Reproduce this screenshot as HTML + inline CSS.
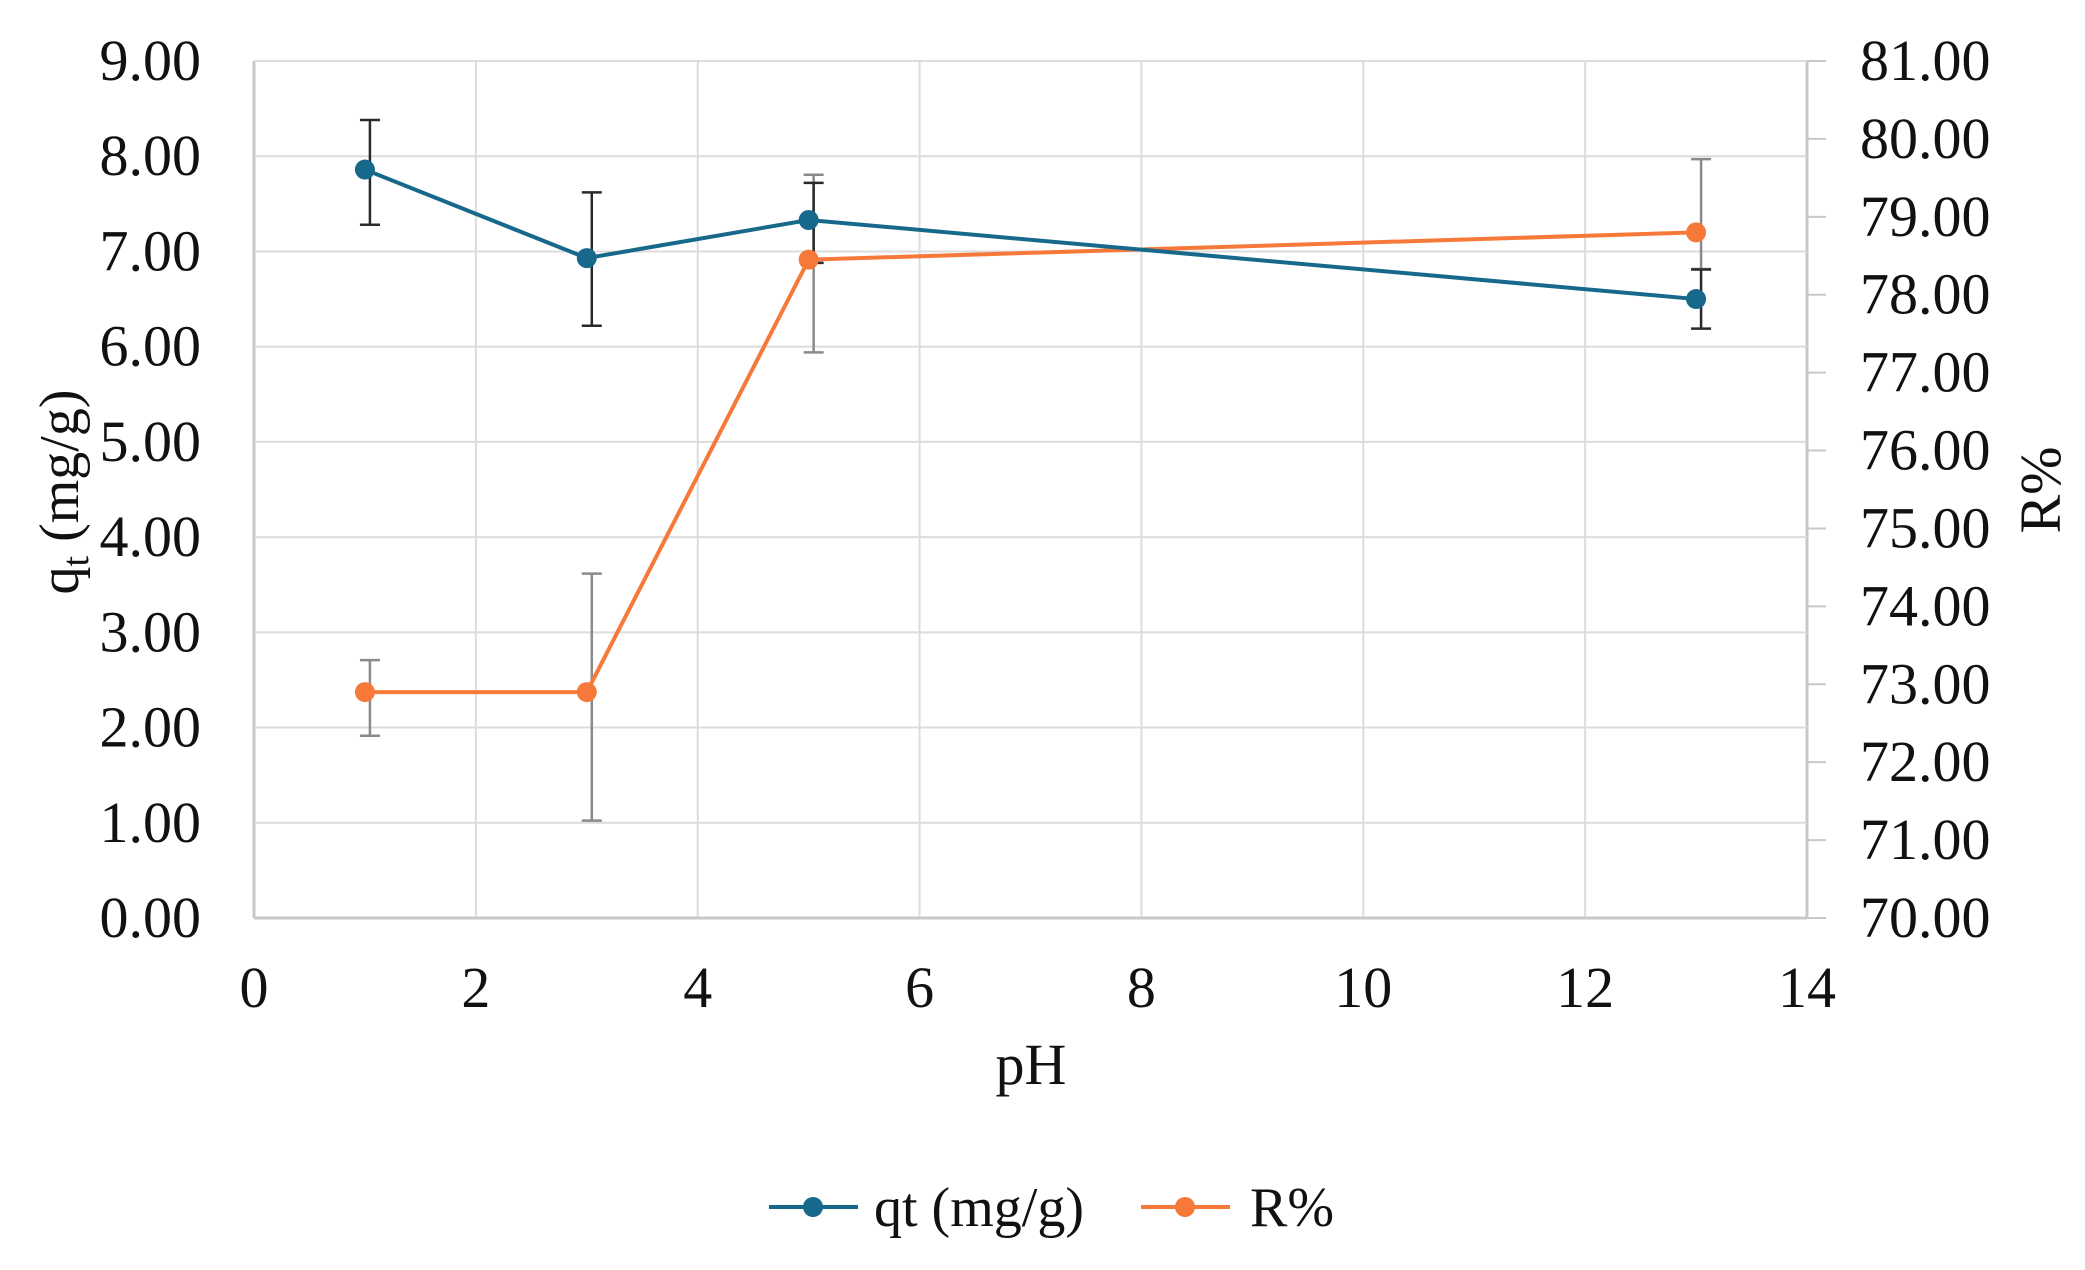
<!DOCTYPE html>
<html><head><meta charset="utf-8"><style>
html,body{margin:0;padding:0;background:#fff;}
svg text{font-family:"Liberation Serif","DejaVu Serif",serif;fill:#111;}
</style></head><body>
<svg id="chart" width="2085" height="1265" viewBox="0 0 2085 1265" xmlns="http://www.w3.org/2000/svg">
<g id="grid"></g><g id="axes"></g><g id="series"></g>
<text x="1031" y="1084" font-size="58" text-anchor="middle">pH</text>
<text transform="translate(78,492) rotate(-90)" font-size="56" text-anchor="middle">q<tspan font-size="38" dy="10">t</tspan><tspan dy="-10"> (mg/g)</tspan></text>
<text transform="translate(2060,490) rotate(-90)" font-size="58" text-anchor="middle">R%</text>
<g>
<g>
<line x1="769" y1="1207" x2="858" y2="1207" stroke="#17698c" stroke-width="4"/><circle cx="813" cy="1207" r="10" fill="#17698c"/>
<text x="874" y="1226" font-size="56">qt (mg/g)</text></g>
<g>
<line x1="1141" y1="1207" x2="1230" y2="1207" stroke="#f7793a" stroke-width="4"/><circle cx="1185" cy="1207" r="10" fill="#f7793a"/>
<text x="1250" y="1226" font-size="56">R%</text></g>
</g>
</svg>
<script>
const phValues=[1,3,5,13];
const qtValues=[7.86,6.93,7.33,6.50];
const qtErrLow=[7.28,6.22,6.88,6.19];
const qtErrHigh=[8.38,7.62,7.72,6.81];
const rValues=[72.9,72.9,78.45,78.8];
const rErrLow=[72.34,71.25,77.26,78.33];
const rErrHigh=[73.31,74.42,79.54,79.74];
const xTicks=[0,2,4,6,8,10,12,14];
const leftTicks=["0.00","1.00","2.00","3.00","4.00","5.00","6.00","7.00","8.00","9.00"];
const rightTicks=["70.00","71.00","72.00","73.00","74.00","75.00","76.00","77.00","78.00","79.00","80.00","81.00"];
const L=254,R=1807,T=61,B=918;
const xs=v=>L+(v-0)/14*(R-L);
const yl=v=>B-(v-0)/9*(B-T);
const yr=v=>B-(v-70)/11*(B-T);
const NS="http://www.w3.org/2000/svg";
function mk(parent,tag,attrs){const e=document.createElementNS(NS,tag);for(const k in attrs)e.setAttribute(k,attrs[k]);document.getElementById(parent).appendChild(e);return e;}
xTicks.forEach(t=>{
 const g=mk('grid','line',{x1:xs(t),x2:xs(t),y1:T,y2:B,stroke:t===0||t===14?'#c8c8c8':'#dcdcdc','stroke-width':t===0||t===14?3:2});
 
 
 const tx=mk('axes','text',{x:xs(t),y:1007,'font-size':58,'text-anchor':'middle'});tx.textContent=t;
 
 
});
leftTicks.forEach(s=>{
 const v=parseFloat(s);
 const g=mk('grid','line',{x1:L,x2:R,y1:yl(v),y2:yl(v),stroke:v===0?'#c8c8c8':'#dcdcdc','stroke-width':v===0?3:2});
 
 
 const tx=mk('axes','text',{x:201,y:yl(v)+19,'font-size':58,'text-anchor':'end'});tx.textContent=s;
 
 
});
rightTicks.forEach(s=>{
 const v=parseFloat(s);
 const g=mk('axes','line',{x1:R,x2:1826,y1:yr(v),y2:yr(v),stroke:'#c8c8c8','stroke-width':2});
 
 
 const tx=mk('axes','text',{x:1860,y:yr(v)+19,'font-size':58,'text-anchor':'start'});tx.textContent=s;
 
 
});
function err(x,y1,y2,col,name){
 const ln=mk('series','line',{x1:x,x2:x,y1:y1,y2:y2,stroke:col,'stroke-width':2.5});
 
 
 [y1,y2].forEach(y=>{mk('series','line',{x1:x-10,x2:x+10,y1:y,y2:y,stroke:col,'stroke-width':2.5});});
}
phValues.forEach((p,i)=>{err(xs(p)+5,yr(rErrLow[i]),yr(rErrHigh[i]),'#8a8a8a','r-error-bar');});
phValues.forEach((p,i)=>{err(xs(p)+5,yl(qtErrLow[i]),yl(qtErrHigh[i]),'#2a2a2a','qt-error-bar');});
const rl=mk('series','polyline',{points:phValues.map((p,i)=>xs(p)+','+yr(rValues[i])).join(' '),fill:'none',stroke:'#f7793a','stroke-width':4});


const ql=mk('series','polyline',{points:phValues.map((p,i)=>xs(p)+','+yl(qtValues[i])).join(' '),fill:'none',stroke:'#17698c','stroke-width':4});


phValues.forEach((p,i)=>{
 const c=mk('series','circle',{cx:xs(p),cy:yr(rValues[i]),r:10,fill:'#f7793a'});
 
 
 const d=mk('series','circle',{cx:xs(p),cy:yl(qtValues[i]),r:10,fill:'#17698c'});
 
 
});
</script>
</body></html>
